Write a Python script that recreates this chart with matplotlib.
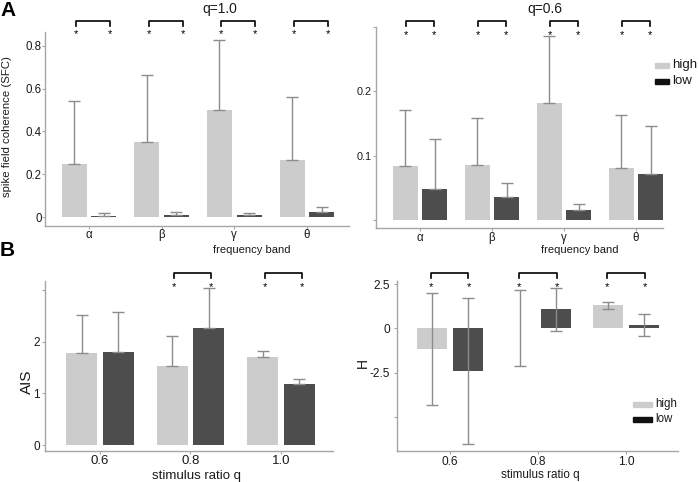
import numpy as np
import matplotlib
matplotlib.use("Agg")
import matplotlib.pyplot as plt
from matplotlib.patches import Rectangle
from matplotlib.transforms import blended_transform_factory

plt.rcParams['font.family'] = ['Liberation Sans', 'DejaVu Sans']

# ---------------- data ----------------
bands = ['α', 'β', 'γ', 'θ']
ratios = ['0.6', '0.8', '1.0']

sfc_q10_high = [0.246, 0.349, 0.498, 0.268]
sfc_q10_high_err = [0.296, 0.314, 0.327, 0.294]
sfc_q10_low = [0.005, 0.009, 0.009, 0.023]
sfc_q10_low_err = [0.012, 0.016, 0.011, 0.025]
sfc_q10_sig = [True, True, True, True]

sfc_q06_high = [0.0836, 0.086, 0.1815, 0.0805]
sfc_q06_high_err = [0.0874, 0.072, 0.1045, 0.0835]
sfc_q06_low = [0.0487, 0.036, 0.0164, 0.0718]
sfc_q06_low_err = [0.0773, 0.021, 0.0092, 0.0742]
sfc_q06_sig = [True, True, True, True]

ais_high = [1.79, 1.53, 1.70]
ais_high_err = [0.73, 0.59, 0.12]
ais_low = [1.81, 2.27, 1.19]
ais_low_err = [0.77, 0.78, 0.09]
ais_sig = [False, True, True]

h_high = [-1.17, 0.02, 1.32]
h_high_err = [3.16, 2.15, 0.19]
h_low = [-2.42, 1.08, 0.19]
h_low_err = [4.15, 1.23, 0.64]
h_sig = [True, True, True]

# ---------------- style ----------------
W, H = 699, 482
C_HIGH = '#cccccc'
C_LOW = '#4d4d4d'
C_ERR = '#8c8c8c'
C_SPINE = '#a6a6a6'
C_TXT = '#1a1a1a'

fig = plt.figure(figsize=(W / 100, H / 100), dpi=100)


def fx(px):
    return px / W


def fy(py):
    return 1 - py / H


def make_ax(l, r, t, b, xpad, ypad):
    ax = fig.add_axes([fx(l), fy(b), (r - l) / W, (b - t) / H])
    for s in ['top', 'right']:
        ax.spines[s].set_visible(False)
    for s in ['left', 'bottom']:
        ax.spines[s].set_color(C_SPINE)
        ax.spines[s].set_linewidth(1.0)
    ax.tick_params(colors=C_SPINE, labelcolor=C_TXT, length=2, width=0.8)
    ax.tick_params(axis='x', pad=xpad)
    ax.tick_params(axis='y', pad=ypad)
    ax.set_facecolor('none')
    return ax


def draw_bars(ax, high, herr, low, lerr, width, off, both):
    x = np.arange(1, len(high) + 1)
    ax.bar(x - off, high, width, color=C_HIGH, zorder=1)
    ax.bar(x + off, low, width, color=C_LOW, zorder=1)
    for xs, m, e in [(x - off, high, herr), (x + off, low, lerr)]:
        m = np.array(m)
        e = np.array(e)
        if both:
            yerr = [e, e]
        else:
            yerr = [np.zeros_like(e), e]
        ax.errorbar(xs, m, yerr=yerr, fmt='none', ecolor=C_ERR,
                    elinewidth=1.0, capsize=4, capthick=1.0, zorder=3)
    return x


def brackets(ax, sig, dl, dr, ytop, yleg, ystar):
    tr = blended_transform_factory(ax.transData, fig.transFigure)
    for i, s in enumerate(sig):
        if not s:
            continue
        c = i + 1
        xl, xr = c + dl, c + dr
        ax.plot([xl, xl, xr, xr], [fy(yleg), fy(ytop), fy(ytop), fy(yleg)],
                color='black', lw=1.2, transform=tr, clip_on=False)
        for xx in (xl, xr):
            ax.text(xx, fy(ystar), '*', transform=tr, ha='center',
                    va='baseline', fontsize=8, color='black')


# ---- A left: q=1.0 ----
ax1 = make_ax(45, 349, 32, 226, 0.5, 0.5)
x = draw_bars(ax1, sfc_q10_high, sfc_q10_high_err, sfc_q10_low,
              sfc_q10_low_err, 0.344, 0.204, False)
ax1.set_xlim(0.395, 4.578)
ax1.set_ylim(-0.042, 0.864)
ax1.set_yticks([0, 0.2, 0.4, 0.6, 0.8])
ax1.set_yticklabels(['0', '0.2', '0.4', '0.6', '0.8'], fontsize=8.3)
ax1.set_xticks(x)
ax1.set_xticklabels(bands, fontsize=8.3)
brackets(ax1, sfc_q10_sig, -0.18, 0.29, 21, 26, 37)

# ---- A right: q=0.6 ----
ax2 = make_ax(376, 663, 27, 228, 1.0, 1.0)
x = draw_bars(ax2, sfc_q06_high, sfc_q06_high_err, sfc_q06_low,
              sfc_q06_low_err, 0.344, 0.204, False)
ax2.set_xlim(0.389, 4.375)
ax2.set_ylim(-0.0123, 0.3)
ax2.set_yticks([0, 0.1, 0.2, 0.3])
ax2.set_yticklabels(['', '0.1', '0.2', ''], fontsize=7.8)
ax2.set_xticks(x)
ax2.set_xticklabels(bands, fontsize=8.3)
brackets(ax2, sfc_q06_sig, -0.19, 0.19, 21, 26, 38)

# ---- B left: AIS ----
ax3 = make_ax(45, 333, 281, 451, 1.0, 1.5)
x = draw_bars(ax3, ais_high, ais_high_err, ais_low, ais_low_err,
              0.343, 0.204, False)
ax3.set_xlim(0.392, 3.575)
ax3.set_ylim(-0.116, 3.18)
ax3.set_yticks([0, 1, 2, 3])
ax3.set_yticklabels(['0', '1', '2', ''], fontsize=8.5)
ax3.set_xticks(x)
ax3.set_xticklabels(ratios, fontsize=9.5)
brackets(ax3, ais_sig, -0.18, 0.23, 273, 278, 290)

# ---- B right: H ----
ax4 = make_ax(397, 678, 281, 451, 1.5, 3.0)
x = draw_bars(ax4, h_high, h_high_err, h_low, h_low_err, 0.34, 0.205, True)
ax4.set_xlim(0.398, 3.59)
ax4.set_ylim(-6.94, 2.69)
ax4.set_yticks([-5, -2.5, 0, 2.5])
ax4.set_yticklabels(['', '-2.5', '0', '2.5'], fontsize=8.6)
ax4.set_xticks(x)
ax4.set_xticklabels(ratios, fontsize=8.6)
brackets(ax4, h_sig, -0.22, 0.21, 273, 278, 290)

# ---------------- text ----------------
fig.text(fx(0), fy(11), 'A', fontsize=15, fontweight='bold', va='center', ha='left')
fig.text(fx(0), fy(251), 'B', fontsize=15, fontweight='bold', va='center', ha='left')
fig.text(fx(220), fy(9), 'q=1.0', fontsize=10, ha='center', va='center', color=C_TXT)
fig.text(fx(545), fy(9), 'q=0.6', fontsize=10, ha='center', va='center', color=C_TXT)
fig.text(fx(252), fy(250), 'frequency band', fontsize=8, ha='center', va='center', color=C_TXT)
fig.text(fx(580), fy(250), 'frequency band', fontsize=8, ha='center', va='center', color=C_TXT)
fig.text(fx(197), fy(476), 'stimulus ratio q', fontsize=9.5, ha='center', va='center', color=C_TXT)
fig.text(fx(540), fy(475), 'stimulus ratio q', fontsize=8.4, ha='center', va='center', color=C_TXT)
fig.text(fx(7), fy(127), 'spike field coherence (SFC)', fontsize=8.2, rotation=90,
         ha='center', va='center', color=C_TXT)
fig.text(fx(27), fy(382), 'AIS', fontsize=11, rotation=90, ha='center', va='center', color=C_TXT)
fig.text(fx(363), fy(363), 'H', fontsize=10, rotation=90, ha='center', va='center', color=C_TXT)

# legends
def legend(x0, ys, kw, kh, fs):
    for (y, lab, col) in zip(ys, ['high', 'low'], [C_HIGH, '#111111']):
        fig.patches.append(Rectangle((fx(x0), fy(y + kh / 2)), kw / W, kh / H,
                                     transform=fig.transFigure, color=col))
        fig.text(fx(x0 + kw + 3), fy(y), lab, fontsize=fs, ha='left', va='center', color=C_TXT)


legend(655, [65, 81], 14, 5, 9.5)
legend(633, [404, 419], 19, 5, 8.3)

fig.savefig('out.png', dpi=100)
